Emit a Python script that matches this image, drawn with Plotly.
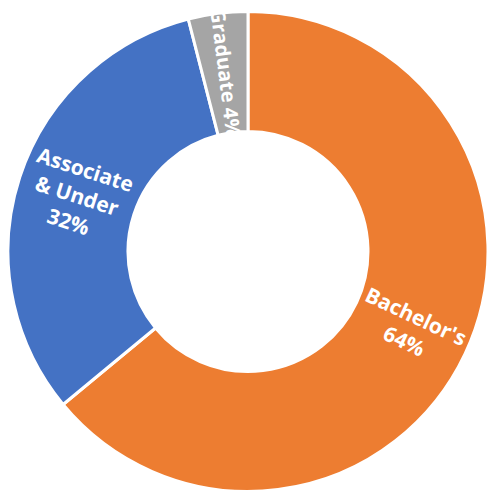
import math
import plotly.graph_objects as go

labels = ["Bachelor's", "Associate & Under", "Graduate"]
values = [64, 32, 4]
texts = ["Bachelor's<br>64%", "Associate<br>& Under<br>32%", "Graduate 4%"]
colors = ["#ED7D31", "#4472C4", "#A5A5A5"]

W, H = 488, 493
HOLE = 0.5
dom_x = [8 / W, 1.0]
dom_y = [0.0, 483 / H]

fig = go.Figure(go.Pie(
    labels=labels,
    values=values,
    textinfo="none",
    hole=HOLE,
    sort=False,
    direction="clockwise",
    rotation=0,
    marker=dict(colors=colors, line=dict(color="white", width=3)),
    domain=dict(x=dom_x, y=dom_y),
    showlegend=False,
    hoverinfo="label+percent",
))

# geometry of the pie in pixels (Plotly: radius = half the smaller domain side)
dw = (dom_x[1] - dom_x[0]) * W
dh = (dom_y[1] - dom_y[0]) * H
R = min(dw, dh) / 2
cx = (dom_x[0] + dom_x[1]) / 2 * W
cy = (dom_y[0] + dom_y[1]) / 2 * H  # from bottom
rmid = R * (1 + HOLE) / 2

total = sum(values)
cum = 0
for i, (txt, v) in enumerate(zip(texts, values)):
    mid = (cum + v / 2) / total * 360
    cum += v
    th = math.radians(mid)
    px = cx + rmid * math.sin(th)
    py = cy + rmid * math.cos(th)
    ang = mid - 90 if mid <= 180 else mid - 270
    size = 20 if v < 10 else 21
    fig.add_annotation(
        x=px / W, y=py / H, xref="paper", yref="paper",
        text=txt, showarrow=False, textangle=ang,
        xanchor="center", yanchor="middle", align="center",
        font=dict(family="Open Sans", size=size, color="white", weight="bold"),
    )

fig.update_layout(
    width=W, height=H,
    margin=dict(l=0, r=0, t=0, b=0),
    paper_bgcolor="white",
    plot_bgcolor="white",
)

fig.write_html("out.html")
